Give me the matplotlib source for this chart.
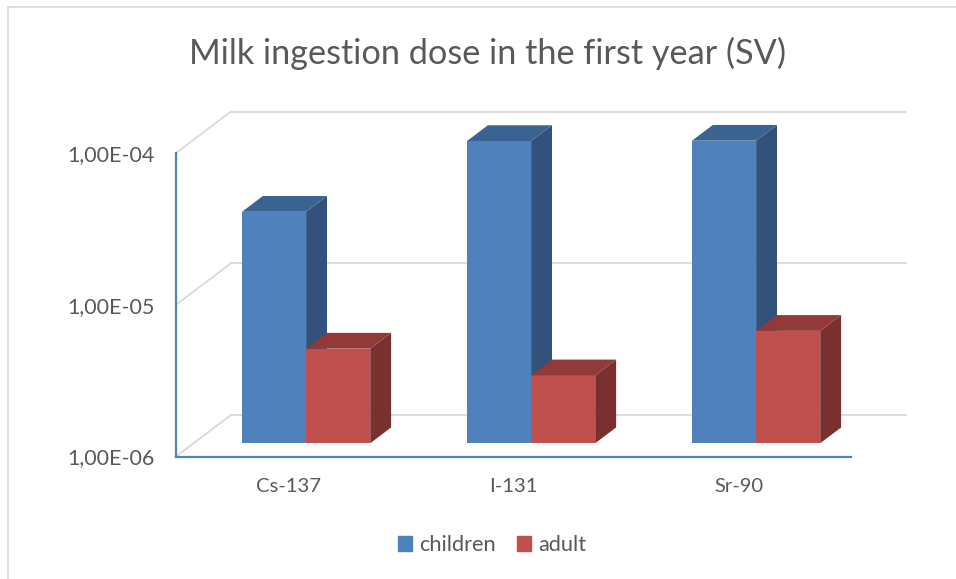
import matplotlib
matplotlib.use('Agg')
import matplotlib.pyplot as plt
import numpy as np
from matplotlib.patches import Polygon, Patch
from matplotlib.lines import Line2D
from matplotlib.transforms import offset_copy, IdentityTransform

plt.rcParams['font.family'] = ['Lato', 'DejaVu Sans']

# data
isotopes = ['Cs-137', 'I-131', 'Sr-90']
children = [3.35e-5, 9.8e-5, 9.85e-5]
adult = [4.2e-6, 2.8e-6, 5.5e-6]
y_ticks = [1e-6, 1e-5, 1e-4]
y_labels = ['1,00E-06', '1,00E-05', '1,00E-04']

W, H = 956, 579
fig = plt.figure(figsize=(W / 100, H / 100), dpi=100)
# front plane of the 3d box
ax = fig.add_axes([176 / W, 1 - 456.5 / H, 675 / W, 303.5 / H])
ax.set_yscale('log')
ax.set_ylim(1e-6, 1e-4)
ax.set_xlim(-0.5, 2.5)
ax.patch.set_visible(False)
for s in ['top', 'right']:
    ax.spines[s].set_visible(False)
for s in ['left', 'bottom']:
    ax.spines[s].set_color('#4F81BD')
    ax.spines[s].set_linewidth(1.6)

ax.set_yticks(y_ticks)
ax.set_yticklabels(y_labels)
ax.yaxis.set_minor_locator(matplotlib.ticker.NullLocator())
ax.set_xticks(range(len(isotopes)))
ax.set_xticklabels(isotopes)
ax.tick_params(axis='y', length=0, pad=15.5, labelsize=15.5, labelcolor='#595959')
ax.tick_params(axis='x', length=0, pad=15.5, labelsize=14.6, labelcolor='#595959')

# perspective offsets in pixels
wall_dx, wall_dy = 55, 41.5
f_front, f_back = 0.32, 0.70

ident = IdentityTransform()
grid_c = '#d9d9d9'
x0, x1 = ax.get_xlim()
for v in y_ticks:
    px0, py = ax.transData.transform((x0, v))
    px1, _ = ax.transData.transform((x1, v))
    ax.add_line(Line2D([px0, px0 + wall_dx], [py, py + wall_dy], color=grid_c,
                       lw=1.3, transform=ident, zorder=0, clip_on=False))
    ax.add_line(Line2D([px0 + wall_dx, px1 + wall_dx], [py + wall_dy, py + wall_dy],
                       color=grid_c, lw=1.3, transform=ident, zorder=0, clip_on=False))

front_tr = offset_copy(ax.transData, fig, x=wall_dx * f_front, y=wall_dy * f_front, units='dots')
back_tr = offset_copy(ax.transData, fig, x=wall_dx * f_back, y=wall_dy * f_back, units='dots')

bw = 0.285
series = [
    (children, -bw / 2, '#4F81BD', '#32527C', '#3B6392'),
    (adult, bw / 2, '#C0504D', '#7A302E', '#923A38'),
]

z = 2
for i in range(len(isotopes)):
    for vals, off, c_front, c_side, c_top in series:
        xc = i + off
        xl, xr = xc - bw / 2, xc + bw / 2
        v = vals[i]
        ax.bar(xc, v - 1e-6, width=bw, bottom=1e-6, color=c_front, transform=front_tr,
               clip_on=False, zorder=z, linewidth=0)
        # side face
        fb = front_tr.transform([(xr, 1e-6), (xr, v)])
        bb = back_tr.transform([(xr, v), (xr, 1e-6)])
        ax.add_patch(Polygon(np.vstack([fb, bb]), closed=True, facecolor=c_side,
                             edgecolor='none', transform=ident, zorder=z, clip_on=False))
        # top face
        ft = front_tr.transform([(xl, v), (xr, v)])
        bt = back_tr.transform([(xr, v), (xl, v)])
        ax.add_patch(Polygon(np.vstack([ft, bt]), closed=True, facecolor=c_top,
                             edgecolor='none', transform=ident, zorder=z, clip_on=False))
        z += 1

fig.text(487.5 / W, 1 - 53 / H, 'Milk ingestion dose in the first year (SV)',
         ha='center', va='center', fontsize=24.7, color='#595959')

handles = [Patch(color='#4F81BD'), Patch(color='#C0504D')]
fig.legend(handles, ['children', 'adult'], loc='center', ncol=2,
           bbox_to_anchor=(492 / W, 1 - 545 / H), frameon=False, fontsize=15.7,
           labelcolor='#595959', handlelength=0.65, handleheight=0.65,
           handletextpad=0.3, columnspacing=1.0)

# chart frame
fig.add_artist(Line2D([8 / W, 8 / W], [0, 1 - 7 / H], color=grid_c, lw=1.2))
fig.add_artist(Line2D([8 / W, 1], [1 - 7 / H, 1 - 7 / H], color=grid_c, lw=1.2))

fig.savefig('out.png', dpi=100)
